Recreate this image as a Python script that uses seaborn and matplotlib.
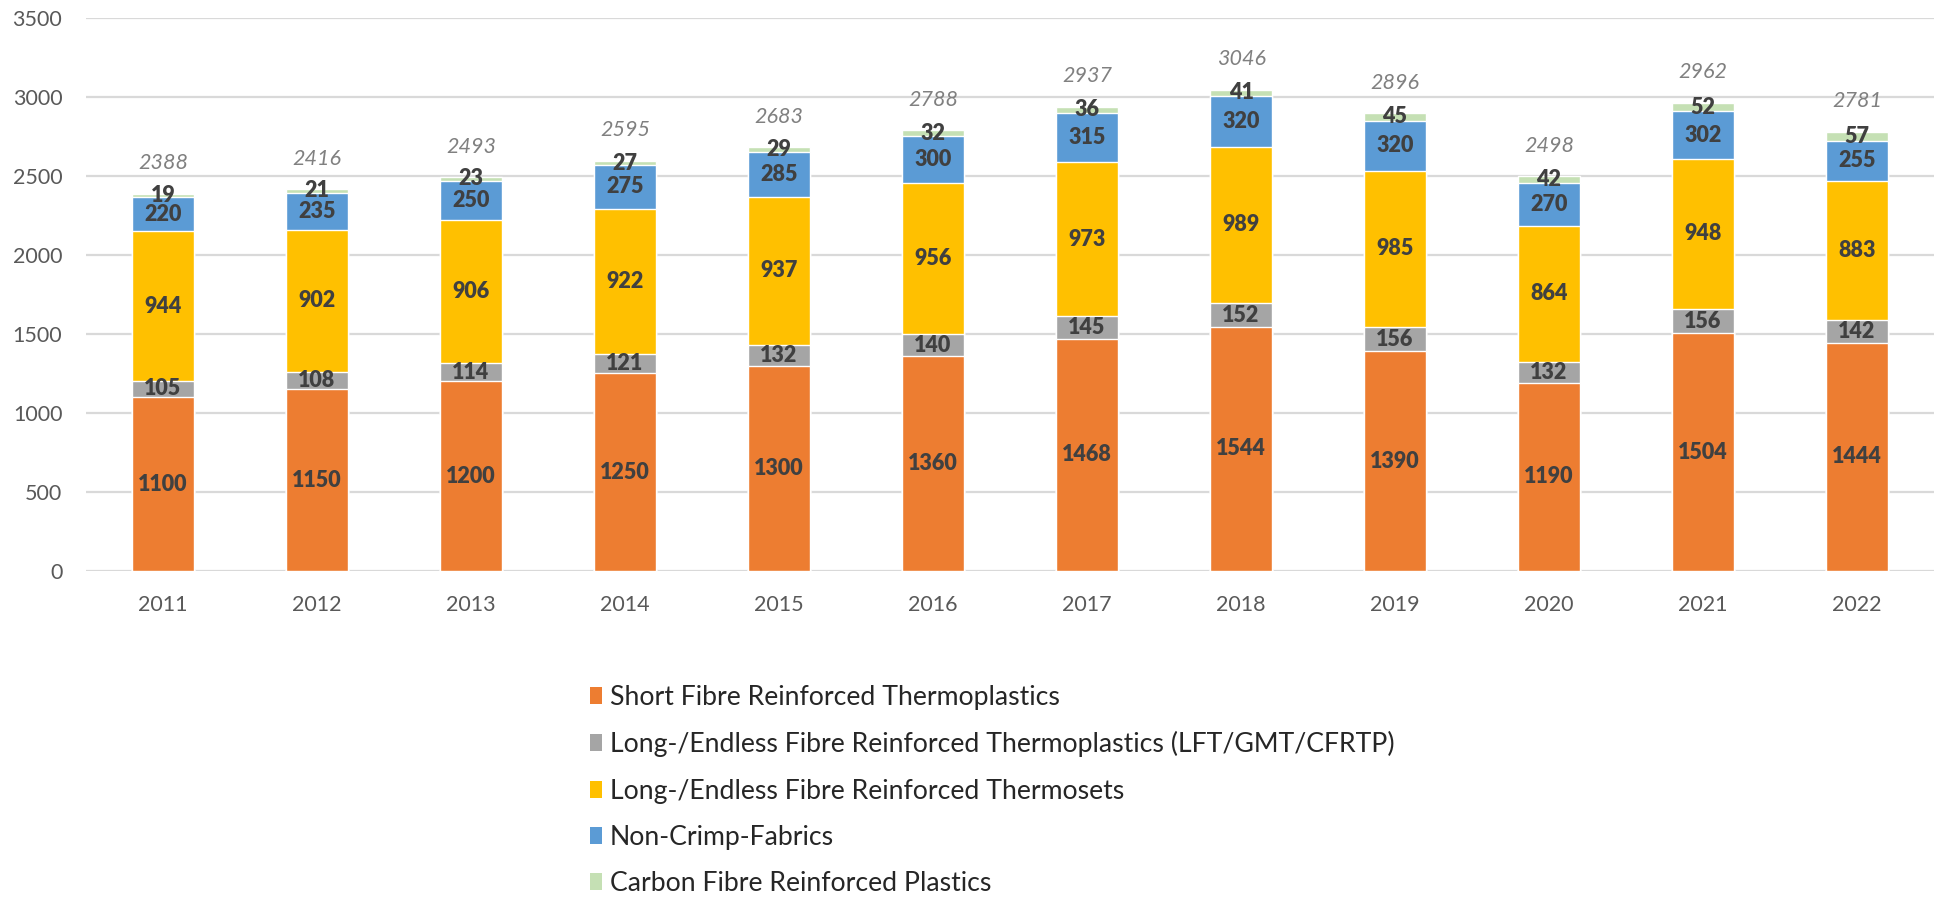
import numpy as np
import pandas as pd
import matplotlib
matplotlib.use("Agg")
import matplotlib.pyplot as plt
import seaborn as sns
from matplotlib.patches import Patch

# datos
years = ["2011", "2012", "2013", "2014", "2015", "2016", "2017", "2018", "2019", "2020", "2021", "2022"]
short_fibre = [1100, 1150, 1200, 1250, 1300, 1360, 1468, 1544, 1390, 1190, 1504, 1444]
long_thermoplastics = [105, 108, 114, 121, 132, 140, 145, 152, 156, 132, 156, 142]
long_thermosets = [944, 902, 906, 922, 937, 956, 973, 989, 985, 864, 948, 883]
non_crimp = [220, 235, 250, 275, 285, 300, 315, 320, 320, 270, 302, 255]
carbon_fibre = [19, 21, 23, 27, 29, 32, 36, 41, 45, 42, 52, 57]
totals = [2388, 2416, 2493, 2595, 2683, 2788, 2937, 3046, 2896, 2498, 2962, 2781]

series_names = [
    "Short Fibre Reinforced Thermoplastics",
    "Long-/Endless Fibre Reinforced Thermoplastics (LFT/GMT/CFRTP)",
    "Long-/Endless Fibre Reinforced Thermosets",
    "Non-Crimp-Fabrics",
    "Carbon Fibre Reinforced Plastics",
]
series_values = [short_fibre, long_thermoplastics, long_thermosets, non_crimp, carbon_fibre]
colors = ["#ED7D31", "#A5A5A5", "#FFC000", "#5B9BD5", "#C5E0B4"]

sns.set_theme(style="white")
plt.rcParams["font.family"] = ["Lato", "DejaVu Sans"]

df = pd.DataFrame({"year": years})
for name, vals in zip(series_names, series_values):
    df[name] = vals
cum = df[series_names].cumsum(axis=1)

fig = plt.figure(figsize=(19.36, 9), dpi=100)
ax = fig.add_axes([0.0444, 0.3656, 0.9546, 0.6144])

# barras acumuladas, de arriba hacia abajo para que se tapen
for name, col in reversed(list(zip(series_names, colors))):
    sns.barplot(x=df["year"], y=cum[name], color=col, saturation=1, width=0.4,
                errorbar=None, ax=ax, zorder=3)

# etiquetas de cada segmento
for i in range(len(years)):
    bottom = 0
    for name in series_names:
        v = df.loc[i, name]
        ax.text(i, bottom + v / 2, str(v), ha="center", va="center", fontsize=15.5,
                fontweight="heavy", color="#404040", zorder=5)
        bottom += v
    ax.annotate(str(totals[i]), (i, totals[i]), xytext=(0, 22), textcoords="offset points",
                ha="center", va="center", fontsize=15.5, fontstyle="italic", color="#808080")

ax.set_ylim(0, 3500)
ax.set_xlim(-0.5, len(years) - 0.5)
ax.set_yticks(np.arange(0, 3501, 500))
ax.yaxis.grid(True, color="#D9D9D9", linewidth=1.6, zorder=0)
ax.set_axisbelow(True)
for s in ax.spines.values():
    s.set_visible(False)
ax.set_xlabel("")
ax.set_ylabel("")
ax.tick_params(axis="both", length=0, labelsize=15.5, labelcolor="#595959")
ax.tick_params(axis="y", pad=17)
ax.tick_params(axis="x", pad=17)

handles = [Patch(facecolor=c, edgecolor="none") for c in colors]
fig.legend(handles, series_names, loc="upper left", bbox_to_anchor=(0.3047, 0.239),
           frameon=False, fontsize=19.2, handlelength=0.45, handleheight=0.6,
           handletextpad=0.3, labelspacing=0.8, borderpad=0, borderaxespad=0,
           labelcolor="#262626")

fig.savefig("out.png", dpi=100)
